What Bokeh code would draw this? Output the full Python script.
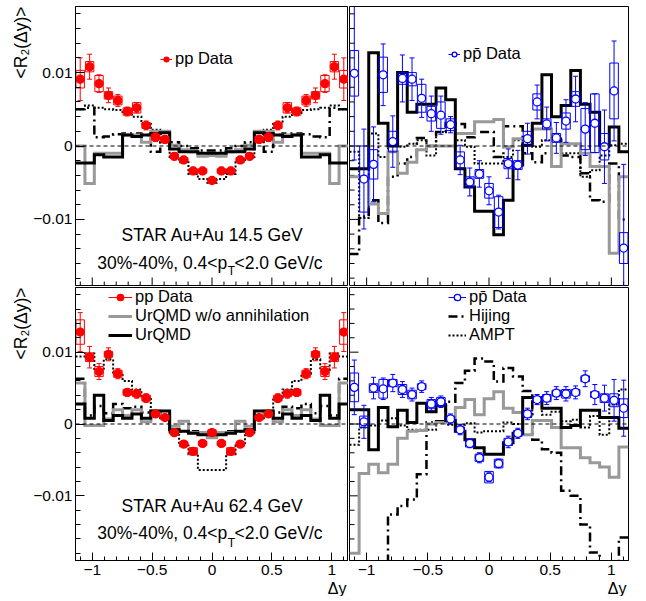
import math
from bokeh.plotting import figure
from bokeh.layouts import gridplot
from bokeh.models import Range1d, FixedTicker, ColumnDataSource, Label, Legend, LegendItem, Span, Title
from bokeh.embed import file_html
from bokeh.resources import INLINE

FONT = "Liberation Sans"

# ---------------- data ----------------
DY = [-1.1007, -1.0221, -0.9434, -0.8648, -0.7862, -0.7076, -0.6290, -0.5503, -0.4717, -0.3931,
      -0.3145, -0.2359, -0.1572, -0.0786, 0.0, 0.0786, 0.1572, 0.2359, 0.3145, 0.3931,
      0.4717, 0.5503, 0.6290, 0.7076, 0.7862, 0.8648, 0.9434, 1.0221, 1.1007]
BIN_W = 0.0786
X_MIN, X_MAX = -1.14, 1.14
Y_MIN, Y_MAX = -0.019, 0.019

X_TICKS = [-1, -0.5, 0, 0.5, 1]
X_TICK_LABELS = ["\u22121", "\u22120.5", "0", "0.5", "1"]
X_MINOR = [-1.1, -0.9, -0.8, -0.7, -0.6, -0.4, -0.3, -0.2, -0.1, 0.1, 0.2, 0.3, 0.4, 0.6, 0.7, 0.8, 0.9, 1.1]
Y_TICKS = [-0.01, 0, 0.01]
Y_TICK_LABELS = ["\u22120.01", "0", "0.01"]
Y_MINOR = [-0.018, -0.016, -0.014, -0.012, -0.008, -0.006, -0.004, -0.002,
           0.002, 0.004, 0.006, 0.008, 0.012, 0.014, 0.016, 0.018]

# Au+Au 14.5 GeV, pp
pp14_val = [0.0091, 0.0108, 0.0085, 0.0069, 0.0062, 0.0047, 0.0052, 0.0028, 0.0012, 0.0009, -0.0014, -0.0019, -0.0034, -0.0034, -0.0047,
            -0.0034, -0.0034, -0.0019, -0.0014, 0.0009, 0.0012, 0.0028, 0.0052, 0.0047, 0.0062, 0.0069, 0.0085, 0.0108, 0.0091]
pp14_stat = [0.0029, 0.0017, 0.0012, 0.0010, 0.0008, 0.0006, 0.0007, 0.0006, 0.0006, 0.0005, 0.0005, 0.0005, 0.0005, 0.0005, 0.0004,
             0.0005, 0.0005, 0.0005, 0.0005, 0.0005, 0.0006, 0.0006, 0.0007, 0.0006, 0.0008, 0.0010, 0.0012, 0.0017, 0.0029]
pp14_sys = [0.0012, 0.0007, 0.0011, 0.0005, 0.0006, 0.0005, 0.0007, 0.0004, 0.0004, 0.0004, 0.0003, 0.0003, 0.0003, 0.0003, 0.0003,
            0.0003, 0.0003, 0.0003, 0.0003, 0.0004, 0.0004, 0.0004, 0.0007, 0.0005, 0.0006, 0.0005, 0.0011, 0.0007, 0.0012]
pp14_urqmd_noann = [0.0, -0.0051, -0.0010, -0.0010, -0.0010, 0.0015, 0.0015, 0.0005, 0.0020, 0.0020, 0.0001, -0.0005, -0.0008, -0.0014, -0.0013,
                    -0.0014, -0.0008, -0.0005, 0.0001, 0.0020, 0.0020, 0.0005, 0.0015, 0.0015, -0.0010, -0.0010, -0.0010, -0.0051, 0.0]
pp14_urqmd = [-0.0023, -0.0023, -0.0012, -0.0015, -0.0015, 0.0015, 0.0013, 0.0015, 0.0017, 0.0018, -0.0004, -0.0008, -0.0008, -0.0010, -0.0010,
              -0.0010, -0.0008, -0.0008, -0.0004, 0.0018, 0.0017, 0.0015, 0.0013, 0.0015, -0.0015, -0.0015, -0.0012, -0.0023, -0.0023]
pp14_hijing = [0.0050, 0.0052, 0.0012, 0.0013, 0.0016, 0.0017, 0.0017, 0.0015, -0.0008, 0.0010, 0.0005, 0.0000, -0.0003, -0.0006, -0.0006,
               -0.0006, -0.0003, 0.0000, 0.0005, 0.0010, -0.0008, 0.0015, 0.0017, 0.0017, 0.0016, 0.0013, 0.0012, 0.0052, 0.0050]
pp14_ampt = [0.0050, 0.0055, 0.0052, 0.0050, 0.0049, 0.0045, 0.0040, 0.0030, 0.0022, 0.0005, -0.0015, -0.0022, -0.0038, -0.0045, -0.0050,
             -0.0045, -0.0038, -0.0022, -0.0015, 0.0005, 0.0022, 0.0030, 0.0040, 0.0045, 0.0049, 0.0050, 0.0052, 0.0055, 0.0050]

# Au+Au 14.5 GeV, p pbar
ppb14_val = [0.0099, -0.0045, -0.0025, 0.0097, 0.0006, 0.0092, 0.0091, 0.0065, 0.0044, 0.0042, 0.0029, -0.0019, -0.0049, -0.0038, -0.0061,
             -0.0090, -0.0024, -0.0026, 0.0010, 0.0060, 0.0030, 0.0011, 0.0034, 0.0064, 0.0023, 0.0031, -0.0001, 0.0075, -0.0139]
ppb14_stat = [0.0118, 0.0068, 0.0051, 0.0042, 0.0035, 0.0032, 0.0029, 0.0026, 0.0024, 0.0026, 0.0011, 0.0020, 0.0019, 0.0018, 0.0019,
              0.0023, 0.0020, 0.0020, 0.0021, 0.0023, 0.0023, 0.0021, 0.0029, 0.0031, 0.0036, 0.0040, 0.0050, 0.0068, 0.0114]
ppb14_sys = [0.0031, 0.0045, 0.0020, 0.0024, 0.0014, 0.0008, 0.0009, 0.0019, 0.0010, 0.0018, 0.0008, 0.0011, 0.0007, 0.0006, 0.0010,
             0.0021, 0.0007, 0.0006, 0.0010, 0.0011, 0.0007, 0.0006, 0.0011, 0.0010, 0.0028, 0.0040, 0.0018, 0.0038, 0.0021]
ppb14_urqmd_noann = [-0.0042, -0.0042, -0.0079, -0.0092, -0.0008, -0.0037, -0.0022, -0.0005, 0.0000, 0.0000, 0.0000, 0.0017, 0.0017, 0.0033, 0.0033,
                     0.0036, -0.0001, 0.0010, 0.0010, 0.0023, 0.0023, -0.0028, 0.0003, 0.0003, -0.0010, -0.0028, -0.0028, -0.0146, -0.0042]
ppb14_urqmd = [-0.0031, -0.0031, 0.0127, 0.0031, 0.0000, 0.0100, 0.0046, 0.0057, 0.0057, 0.0079, 0.0063, -0.0031, -0.0056, -0.0089, -0.0089,
               -0.0121, -0.0074, -0.0026, 0.0001, 0.0031, 0.0097, 0.0040, 0.0055, 0.0103, 0.0057, 0.0046, 0.0001, 0.0026, -0.0008]
ppb14_hijing = [-0.0147, -0.0096, -0.0074, -0.0105, -0.0042, -0.0024, -0.0015, 0.0011, 0.0000, 0.0019, 0.0031, 0.0030, 0.0012, 0.0019, 0.0019,
                -0.0015, 0.0027, 0.0027, -0.0010, -0.0022, -0.0010, 0.0008, -0.0013, -0.0015, -0.0037, -0.0074, -0.0076, -0.0024, -0.0100]
ppb14_ampt = [-0.0008, -0.0098, 0.0017, -0.0015, 0.0003, -0.0001, 0.0003, 0.0008, -0.0013, 0.0019, 0.0028, 0.0008, -0.0001, -0.0024, -0.0024,
              -0.0024, -0.0015, 0.0008, 0.0008, -0.0001, 0.0008, 0.0012, -0.0010, -0.0010, -0.0042, -0.0033, -0.0013, 0.0001, 0.0003]

# Au+Au 62.4 GeV, pp
pp62_val = [0.0128, 0.0093, 0.0073, 0.0097, 0.0070, 0.0044, 0.0042, 0.0036, 0.0014, 0.0009, -0.0012, -0.0028, -0.0038, -0.0027, -0.0012,
            -0.0027, -0.0038, -0.0028, -0.0012, 0.0009, 0.0014, 0.0036, 0.0042, 0.0044, 0.0070, 0.0097, 0.0073, 0.0093, 0.0128]
pp62_stat = [0.0027, 0.0015, 0.0011, 0.0009, 0.0007, 0.0005, 0.0006, 0.0006, 0.0004, 0.0004, 0.0004, 0.0004, 0.0005, 0.0004, 0.0004,
             0.0004, 0.0005, 0.0004, 0.0004, 0.0004, 0.0004, 0.0006, 0.0006, 0.0005, 0.0007, 0.0009, 0.0011, 0.0015, 0.0027]
pp62_sys = [0.0017, 0.0006, 0.0007, 0.0004, 0.0005, 0.0004, 0.0004, 0.0004, 0.0003, 0.0003, 0.0003, 0.0003, 0.0005, 0.0003, 0.0004,
            0.0003, 0.0005, 0.0003, 0.0003, 0.0003, 0.0003, 0.0004, 0.0004, 0.0004, 0.0005, 0.0004, 0.0007, 0.0006, 0.0017]
pp62_urqmd_noann = [0.0057, -0.0002, -0.0002, 0.0007, 0.0020, 0.0012, 0.0020, 0.0003, 0.0018, 0.0012, -0.0003, 0.0004, -0.0012, -0.0012, -0.0019,
                    -0.0012, -0.0012, 0.0004, -0.0003, 0.0012, 0.0018, 0.0003, 0.0020, 0.0012, 0.0020, 0.0007, -0.0002, -0.0002, 0.0057]
pp62_urqmd = [0.0028, 0.0008, 0.0040, 0.0005, 0.0012, 0.0008, 0.0014, 0.0008, 0.0018, 0.0018, -0.0008, -0.0010, -0.0013, -0.0015, -0.0015,
              -0.0015, -0.0013, -0.0010, -0.0008, 0.0018, 0.0018, 0.0008, 0.0014, 0.0008, 0.0012, 0.0005, 0.0040, 0.0008, 0.0028]
pp62_hijing = [0.0063, 0.0012, 0.0025, 0.0015, 0.0028, 0.0022, 0.0024, 0.0016, 0.0015, 0.0012, -0.0008, -0.0010, -0.0010, -0.0012, -0.0012,
               -0.0012, -0.0010, -0.0010, -0.0008, 0.0012, 0.0015, 0.0016, 0.0024, 0.0022, 0.0028, 0.0015, 0.0025, 0.0012, 0.0063]
pp62_ampt = [0.0094, 0.0098, 0.0075, 0.0090, 0.0070, 0.0060, 0.0048, 0.0037, 0.0015, 0.0008, -0.0012, -0.0030, -0.0042, -0.0064, -0.0064,
             -0.0064, -0.0042, -0.0030, -0.0012, 0.0008, 0.0015, 0.0037, 0.0048, 0.0060, 0.0070, 0.0090, 0.0075, 0.0098, 0.0094]

# Au+Au 62.4 GeV, p pbar
ppb62_val = [0.0051, 0.0003, 0.0050, 0.0049, 0.0057, 0.0048, 0.0041, 0.0052, 0.0028, 0.0031, 0.0007, -0.0008, -0.0027, -0.0047, -0.0074,
             -0.0055, -0.0025, -0.0013, 0.0014, 0.0034, 0.0036, 0.0043, 0.0042, 0.0044, 0.0063, 0.0041, 0.0036, 0.0033, 0.0022]
ppb62_stat = [0.0038, 0.0023, 0.0015, 0.0015, 0.0012, 0.0011, 0.0009, 0.0008, 0.0009, 0.0008, 0.0007, 0.0007, 0.0006, 0.0007, 0.0006,
              0.0006, 0.0008, 0.0007, 0.0008, 0.0007, 0.0009, 0.0009, 0.0010, 0.0009, 0.0011, 0.0014, 0.0018, 0.0029, 0.0039]
ppb62_sys = [0.0020, 0.0008, 0.0006, 0.0013, 0.0005, 0.0007, 0.0006, 0.0004, 0.0006, 0.0006, 0.0004, 0.0004, 0.0005, 0.0005, 0.0008,
             0.0006, 0.0005, 0.0004, 0.0005, 0.0004, 0.0005, 0.0004, 0.0006, 0.0004, 0.0004, 0.0004, 0.0006, 0.0009, 0.0013]
ppb62_urqmd_noann = [-0.0180, -0.0069, -0.0056, -0.0068, -0.0056, -0.0020, -0.0010, -0.0009, 0.0000, 0.0002, 0.0009, 0.0023, 0.0034, 0.0013, 0.0035,
                     0.0045, 0.0022, 0.0016, -0.0015, 0.0005, 0.0005, -0.0005, -0.0033, -0.0033, -0.0047, -0.0054, -0.0060, -0.0074, -0.0032]
ppb62_urqmd = [0.0020, 0.0020, -0.0036, 0.0023, -0.0004, 0.0019, 0.0002, 0.0029, 0.0017, 0.0026, 0.0005, -0.0010, -0.0022, -0.0033, -0.0042,
               -0.0042, -0.0026, -0.0013, 0.0037, 0.0037, 0.0022, 0.0022, -0.0005, -0.0002, 0.0019, 0.0019, 0.0009, 0.0009, -0.0006]
ppb62_hijing = [-0.0220, -0.0220, -0.0220, -0.0220, -0.0126, -0.0114, -0.0105, -0.0070, 0.0002, 0.0004, 0.0031, 0.0057, 0.0074, 0.0091, 0.0087,
                0.0059, 0.0078, 0.0066, 0.0046, -0.0022, -0.0035, -0.0040, -0.0093, -0.0100, -0.0140, -0.0179, -0.0200, -0.0200, -0.0158]
ppb62_ampt = [-0.0029, -0.0005, -0.0002, 0.0005, 0.0008, -0.0002, -0.0008, -0.0008, -0.0008, 0.0004, -0.0001, -0.0001, 0.0001, -0.0012, -0.0010,
              -0.0010, 0.0002, 0.0000, 0.0010, 0.0034, 0.0013, 0.0017, 0.0004, 0.0006, -0.0005, 0.0011, -0.0015, 0.0027, 0.0048]

# ---------------- styles ----------------
RED = "#ff0000"
BLUE = "#0000ff"
GRAY = "#999999"
BOX_W = 0.07
TXT = "17.5px"
LEG_TXT = "16.5px"
LFW, RFW = 273, 279      # frame widths
TFH, BFH = 279, 273      # frame heights


def make_panel(fw, fh, bl, br, bt, bb, bottom_axis, left_axis):
    p = figure(frame_width=fw, frame_height=fh, output_backend="svg", toolbar_location=None,
               x_range=Range1d(X_MIN, X_MAX), y_range=Range1d(Y_MIN, Y_MAX),
               min_border_left=bl, min_border_right=br, min_border_top=bt, min_border_bottom=bb)
    p.grid.visible = False
    p.outline_line_color = "black"
    p.outline_line_width = 1
    p.background_fill_color = "white"
    p.border_fill_color = "white"
    xa, ya = p.xaxis[0], p.yaxis[0]
    xa.ticker = FixedTicker(ticks=X_TICKS, minor_ticks=X_MINOR)
    ya.ticker = FixedTicker(ticks=Y_TICKS, minor_ticks=Y_MINOR)
    for ax, mj, mn in ((xa, 8, 4), (ya, 9, 5)):
        ax.major_tick_in = mj
        ax.major_tick_out = 0
        ax.minor_tick_in = mn
        ax.minor_tick_out = 0
        ax.axis_line_color = "black"
        ax.major_tick_line_color = "black"
        ax.minor_tick_line_color = "black"
        ax.major_label_text_font = FONT
        ax.major_label_text_font_size = "15.5px"
        ax.major_label_text_color = "black"
    xa.major_label_overrides = dict(zip(X_TICKS, X_TICK_LABELS))
    ya.major_label_overrides = dict(zip(Y_TICKS, Y_TICK_LABELS))
    xa.major_label_standoff = 4
    ya.major_label_standoff = 3
    if not bottom_axis:
        # ticks only (no labels): draw them inside the frame
        xa.visible = False
        d = (Y_MAX - Y_MIN) / fh
        for ticks, ln in ((X_TICKS, 8), (X_MINOR, 4)):
            p.segment(x0=ticks, y0=[Y_MIN] * len(ticks), x1=ticks, y1=[Y_MIN + ln * d] * len(ticks),
                      line_color="black", line_width=1)
    if not left_axis:
        ya.visible = False
        d = (X_MAX - X_MIN) / fw
        for ticks, ln in ((Y_TICKS, 9), (Y_MINOR, 5)):
            p.segment(x0=[X_MIN] * len(ticks), y0=ticks, x1=[X_MIN + ln * d] * len(ticks), y1=ticks,
                      line_color="black", line_width=1)
    p.add_layout(Span(location=0, dimension="width", line_color="black", line_width=1, line_dash="4 3"))
    return p


def hist(p, vals, color, width, dash="solid"):
    xs, ys = [], []
    for c, v in zip(DY, vals):
        xs += [c - BIN_W / 2, c + BIN_W / 2]
        ys += [v, v]
    return p.line(xs, ys, line_color=color, line_width=width, line_dash=dash, line_join="miter")


def data(p, vals, stat, sys, color, filled):
    src = ColumnDataSource(dict(
        x=DY, y=vals,
        lo=[v - e for v, e in zip(vals, stat)], hi=[v + e for v, e in zip(vals, stat)],
        slo=[v - s for v, s in zip(vals, sys)], shi=[v + s for v, s in zip(vals, sys)],
        l=[c - BOX_W / 2 for c in DY], r=[c + BOX_W / 2 for c in DY]))
    p.quad(left="l", right="r", bottom="slo", top="shi", source=src, fill_alpha=0,
           line_color=color, line_width=1)
    seg = p.segment(x0="x", y0="lo", x1="x", y1="hi", source=src, line_color=color, line_width=1)
    p.scatter(x="x", y="lo", source=src, marker="dash", size=5, line_color=color, line_width=1)
    p.scatter(x="x", y="hi", source=src, marker="dash", size=5, line_color=color, line_width=1)
    mk = p.scatter(x="x", y="y", source=src, marker="circle", size=8,
                   fill_color=color if filled else "white", line_color=color, line_width=1.3)
    return seg, mk


def models(p, noann, urqmd, hijing, ampt):
    r_ampt = hist(p, ampt, "black", 2, "2 2")
    r_hij = hist(p, hijing, "black", 2.5, "9 4 2 4")
    r_noann = hist(p, noann, GRAY, 3)
    r_urqmd = hist(p, urqmd, "black", 3)
    return r_noann, r_urqmd, r_hij, r_ampt


def legend(p, label, renderers, vx, vy, gw):
    lg = Legend(items=[LegendItem(label=label, renderers=list(renderers))], location=(vx, vy),
                background_fill_alpha=0, border_line_alpha=0, padding=0, margin=0, spacing=0,
                glyph_width=gw, glyph_height=16, label_standoff=3, label_height=16,
                label_text_font=FONT, label_text_font_size=LEG_TXT, label_text_color="black")
    p.add_layout(lg)


def text(p, s, x, y, size=TXT, align="left"):
    p.add_layout(Label(x=x, y=y, text=s, text_font=FONT, text_font_size=size, text_align=align,
                       text_baseline="alphabetic", text_color="black"))


# ---------------- panels ----------------
p1 = make_panel(LFW, TFH, 75, 0, 6, 1, False, True)
p2 = make_panel(RFW, TFH, 1, 18, 6, 1, False, False)
p3 = make_panel(LFW, BFH, 75, 0, 1, 36, True, True)
p4 = make_panel(RFW, BFH, 1, 18, 1, 36, True, False)

models(p1, pp14_urqmd_noann, pp14_urqmd, pp14_hijing, pp14_ampt)
models(p2, ppb14_urqmd_noann, ppb14_urqmd, ppb14_hijing, ppb14_ampt)
l_noann, l_urqmd, _, _ = models(p3, pp62_urqmd_noann, pp62_urqmd, pp62_hijing, pp62_ampt)
_, _, l_hij, l_ampt = models(p4, ppb62_urqmd_noann, ppb62_urqmd, ppb62_hijing, ppb62_ampt)

d1 = data(p1, pp14_val, pp14_stat, pp14_sys, RED, True)
d2 = data(p2, ppb14_val, ppb14_stat, ppb14_sys, BLUE, False)
d3 = data(p3, pp62_val, pp62_stat, pp62_sys, RED, True)
d4 = data(p4, ppb62_val, ppb62_stat, ppb62_sys, BLUE, False)

PPBAR = "pp\u0304 Data"
legend(p1, "pp Data", d1, 85, 217, 12)
legend(p2, PPBAR, d2, 99, 222, 12)
legend(p3, "pp Data", d3, 33, 254, 24)
legend(p3, "UrQMD w/o annihilation", [l_noann], 33, 235, 24)
legend(p3, "UrQMD", [l_urqmd], 33, 216, 24)
legend(p4, PPBAR, d4, 99, 254, 18)
legend(p4, "Hijing", [l_hij], 99, 235, 18)
legend(p4, "AMPT", [l_ampt], 99, 216, 18)

for p, energy, y1, y2, y3 in ((p1, "14.5", -0.0121, -0.01594, -0.01707), (p3, "62.4", -0.01142, -0.01511, -0.01650)):
    text(p, "STAR Au+Au %s GeV" % energy, -0.756, y1)
    text(p, "30%-40%, 0.4<p", 0.127, y2, align="right")
    text(p, "T", 0.131, y3, size="12px")
    text(p, "<2.0 GeV/c", 0.188, y2)

for p in (p1, p3):
    p.add_layout(Title(text="<R\u2082(\u0394y)>", align="right", text_font=FONT, text_font_size="17.5px",
                       text_font_style="normal", text_color="black", standoff=0, offset=0), "left")
for p in (p3, p4):
    p.add_layout(Title(text="\u0394y", align="right", text_font=FONT, text_font_size="16px",
                       text_font_style="normal", text_color="black", standoff=0, offset=2), "below")

grid = gridplot([[p1, p2], [p3, p4]], toolbar_location=None)
open("out.html", "w").write(file_html(grid, INLINE))
